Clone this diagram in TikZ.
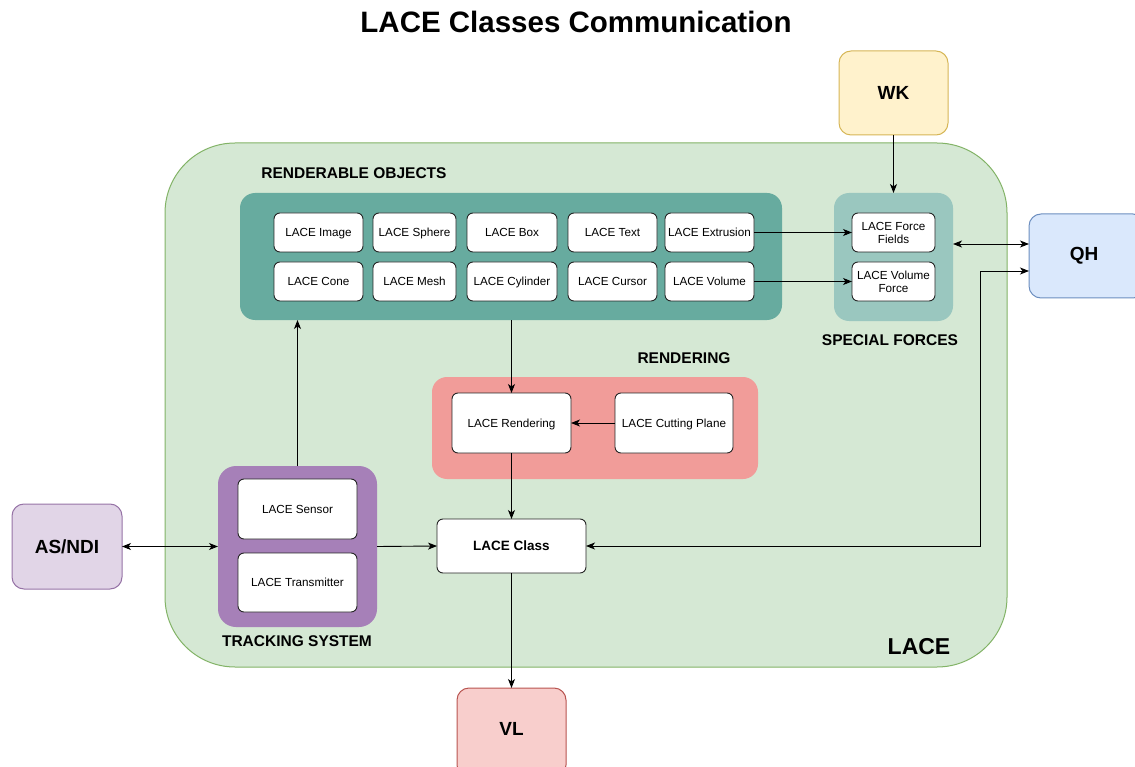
\documentclass[tikz,border=0pt]{standalone}
\usepackage{fontspec}
\setmainfont{Liberation Sans}
\usetikzlibrary{arrows.meta}
\definecolor{laceFill}{HTML}{D5E8D4}
\definecolor{laceLine}{HTML}{82B366}
\definecolor{roFill}{HTML}{67AB9F}
\definecolor{sfFill}{HTML}{9AC7BF}
\definecolor{rdFill}{HTML}{F19C99}
\definecolor{tsFill}{HTML}{A680B8}
\definecolor{wkFill}{HTML}{FFF2CC}
\definecolor{wkLine}{HTML}{D6B656}
\definecolor{qhFill}{HTML}{DAE8FC}
\definecolor{qhLine}{HTML}{6C8EBF}
\definecolor{vlFill}{HTML}{F8CECC}
\definecolor{vlLine}{HTML}{B85450}
\definecolor{asFill}{HTML}{E1D5E7}
\definecolor{asLine}{HTML}{9673A6}
% box from corner (x1,y1) to corner (x2,y2), in pixel units
\newcommand\bx[7]{\node[#6, minimum width={#4-#2}, minimum height={#5-#3}] (#1) at ({(#2+#4)/2},{(#3+#5)/2}) {#7};}
\tikzset{
  every node/.style={inner sep=0pt, outer sep=0pt},
  group/.style={rectangle, rounded corners=15pt},
  clsbase/.style={rectangle, rounded corners=6pt, draw=black!85, line width=0.9pt, fill=white,
    align=center, font=\fontsize{11.7}{13}\selectfont},
  cls/.style={clsbase, text height=8.4pt, text depth=0pt},
  ext/.style={rectangle, rounded corners=12pt, line width=1pt,
    font=\fontsize{19}{22}\selectfont\bfseries},
  grouplabel/.style={font=\fontsize{15.5}{18}\selectfont\bfseries},
  link/.style={line width=0.9pt, -{Stealth[length=9pt,width=7pt,inset=2.5pt]}},
  biLink/.style={line width=0.9pt, {Stealth[length=9pt,width=7pt,inset=2.5pt]}-{Stealth[length=9pt,width=7pt,inset=2.5pt]}},
}
\begin{document}
\begin{tikzpicture}[x=1pt,y=-1pt]
\useasboundingbox (0,0) rectangle (1135,767);

% title
\node[font=\fontsize{29.5}{34}\selectfont\bfseries] (title) at (576,22) {LACE Classes Communication};

% LACE system frame
\bx{lace}{165}{143}{1007}{667}{rectangle, rounded corners=70pt, fill=laceFill, draw=laceLine, line width=1pt}{}
\node[font=\fontsize{23}{27}\selectfont\bfseries] (lacelbl) at (919,647) {LACE};

% renderable objects
\bx{ro}{240}{193}{782}{320}{group, fill=roFill}{}
\node[grouplabel] (rolbl) at (354,173) {RENDERABLE OBJECTS};
\bx{img}{274}{213}{363}{252}{cls}{LACE Image}
\bx{sph}{373}{213}{456}{252}{cls}{LACE Sphere}
\bx{box}{467}{213}{557}{252}{cls}{LACE Box}
\bx{txt}{568}{213}{657}{252}{cls}{LACE Text}
\bx{ext}{665}{213}{754}{252}{cls}{LACE Extrusion}
\bx{cone}{274}{262}{363}{301}{cls}{LACE Cone}
\bx{mesh}{373}{262}{456}{301}{cls}{LACE Mesh}
\bx{cyl}{467}{262}{557}{301}{cls}{LACE Cylinder}
\bx{cur}{568}{262}{657}{301}{cls}{LACE Cursor}
\bx{vol}{665}{262}{754}{301}{cls}{LACE Volume}

% special forces
\bx{sf}{834}{193}{953}{321}{group, fill=sfFill}{}
\node[grouplabel] (sflbl) at (890,340) {SPECIAL FORCES};
\bx{ff}{852}{213}{935}{252}{clsbase}{LACE Force\\Fields}
\bx{vf}{852}{262}{935}{301}{clsbase}{LACE Volume\\Force}

% rendering
\bx{rd}{432}{377}{758}{479}{group, fill=rdFill}{}
\node[grouplabel] (rdlbl) at (684,358) {RENDERING};
\bx{rend}{452}{393}{571}{453}{cls}{LACE Rendering}
\bx{cut}{615}{393}{733}{453}{cls}{LACE Cutting Plane}

% central class
\bx{lc}{437}{519}{586}{573}{clsbase, text height=9.7pt, text depth=0pt, font=\fontsize{13.5}{16}\selectfont\bfseries}{LACE Class}

% tracking system
\bx{ts}{218}{466}{377}{627}{group, rounded corners=18pt, fill=tsFill}{}
\node[grouplabel] (tslbl) at (297,641) {TRACKING SYSTEM};
\bx{sens}{238}{479}{357}{539}{cls}{LACE Sensor}
\bx{trans}{238}{553}{357}{612}{cls}{LACE Transmitter}

% external components
\bx{wk}{839}{51}{948}{135}{ext, fill=wkFill, draw=wkLine}{WK}
\bx{qh}{1029}{214}{1145}{298}{ext, fill=qhFill, draw=qhLine}{}
\node[font=\fontsize{19}{22}\selectfont\bfseries] (qhlbl) at (1084,256) {QH};
\bx{as}{12}{504}{122}{589}{ext, fill=asFill, draw=asLine}{AS/NDI}
\bx{vl}{457}{688}{566}{777}{ext, fill=vlFill, draw=vlLine}{}
\node[font=\fontsize{19}{22}\selectfont\bfseries] (vllbl) at (511.5,729) {VL};

% connectors
\draw[link] (wk.south) -- (sf.north);
\draw[link] (ext.east) -- (ff.west);
\draw[link] (vol.east) -- (vf.west);
\draw[biLink] ([yshift=13pt]sf.east) -- ([yshift=12pt]qh.west);
\coordinate (qhbend) at (980,271);
\draw[biLink] (lc.east) -| (qhbend) -- ([yshift=-15pt]qh.west);
\draw[biLink] (as.east) -- (ts.west);
\draw[link] (ts.east) -- (lc.west);
\draw[link] (ts.north) -- (ts.north |- ro.south);
\draw[link] (rend.north |- ro.south) -- (rend.north);
\draw[link] (cut.west) -- (rend.east);
\draw[link] (rend.south) -- (lc.north);
\draw[link] (lc.south) -- (vl.north);
\end{tikzpicture}
\end{document}
